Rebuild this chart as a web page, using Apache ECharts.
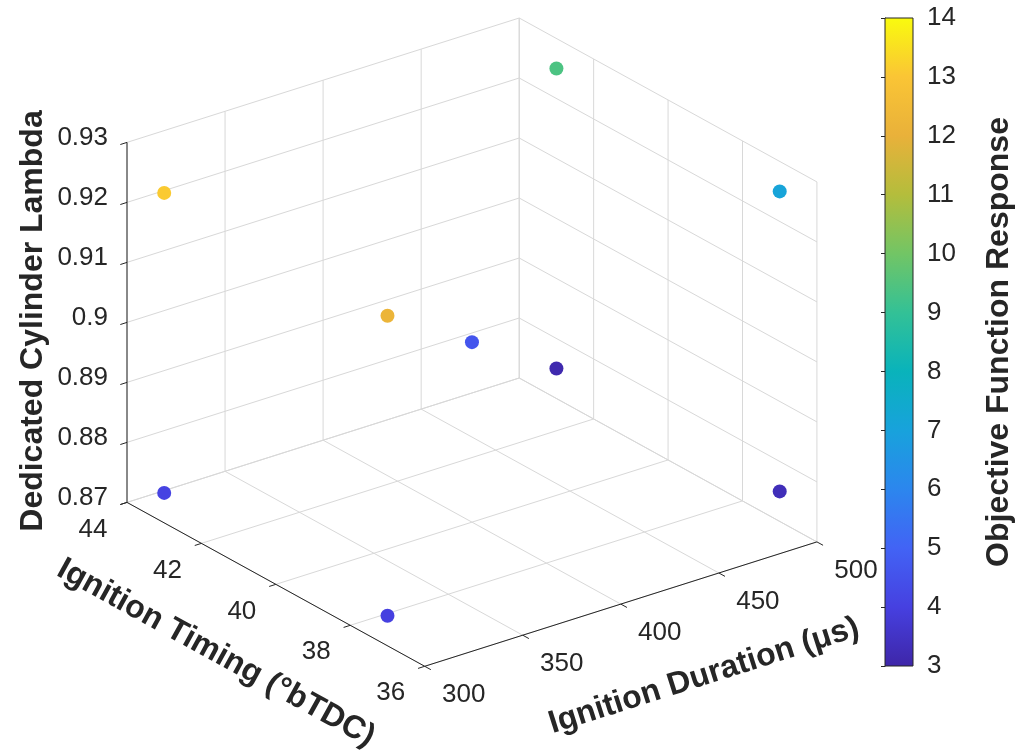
<!DOCTYPE html>
<html>
<head>
<meta charset="utf-8">
<script src="https://cdn.jsdelivr.net/npm/echarts@6/dist/echarts.min.js"></script>
<style>
  html, body { margin: 0; padding: 0; background: #ffffff; }
  #chart { width: 1016px; height: 752px; }
</style>
</head>
<body>
<div id="chart"></div>
<script>
// ---- axis ticks ----
const timingTicks = [36, 38, 40, 42, 44];
const durationTicks = [300, 350, 400, 450, 500];
const lambdaTicks = [0.87, 0.88, 0.89, 0.90, 0.91, 0.92, 0.93];
const lambdaTickLabels = ['0.87', '0.88', '0.89', '0.9', '0.91', '0.92', '0.93'];
const responseTicks = [3, 4, 5, 6, 7, 8, 9, 10, 11, 12, 13, 14];

// ---- design points: 2^3 factorial plus centre point ----
const timing   = [43, 37, 43, 37, 43, 37, 43, 37, 40];
const duration = [300, 300, 500, 500, 300, 300, 500, 500, 400];
const lambda   = [0.925, 0.925, 0.925, 0.925, 0.875, 0.875, 0.875, 0.875, 0.90];
const response = [13.1, 12.2, 9.4, 7.1, 4.1, 4.0, 3.1, 3.3, 4.6];

// parula-like colour map, one stop per integer response tick
const PARULA = ['#3e26a8', '#4640e0', '#4263f5', '#2c86ee', '#18a2dc', '#09b3bb',
                '#33c196', '#72c565', '#b4bd3c', '#e9b13a', '#fac535', '#f9fb0e'];

const FONT = '"Liberation Sans", Arial, Helvetica, sans-serif';
const INK = '#262626';
const GRIDC = '#d8d8d8';
const TICK_SIZE = 26;
const TITLE_SIZE = 32;

// ---- orthographic 3-D view ----
const VIEW = { az: 127.2 * Math.PI / 180, el: 24.7 * Math.PI / 180 };
const BOX = { base: 492.4, height: 360 };
const tMin = timingTicks[0], tMax = timingTicks[timingTicks.length - 1];
const dMin = durationTicks[0], dMax = durationTicks[durationTicks.length - 1];
const lMin = lambdaTicks[0], lMax = lambdaTicks[lambdaTicks.length - 1];

function project(t, d, l) {
  const a = (t - tMin) / (tMax - tMin);
  const b = (d - dMin) / (dMax - dMin);
  const c = (l - lMin) / (lMax - lMin);
  const ca = Math.cos(VIEW.az), sa = Math.sin(VIEW.az), se = Math.sin(VIEW.el);
  return [BOX.base * (ca * a + sa * b), BOX.base * se * (sa * a - ca * b) + BOX.height * c];
}

const xLo = project(tMax, dMin, lMin)[0];
const xHi = project(tMin, dMax, lMin)[0];
const yHi = project(tMax, dMax, lMax)[1];

const points = timing.map((t, i) => {
  const p = project(t, duration[i], lambda[i]);
  return [p[0], p[1], response[i]];
});

function unit(a, b) {
  const dx = b[0] - a[0], dy = b[1] - a[1];
  const n = Math.hypot(dx, dy);
  return [dx / n, dy / n];
}

function text(str, x, y, opts) {
  return {
    type: 'text', x: x, y: y, rotation: opts.rotation || 0,
    style: {
      text: str, fill: INK, fontFamily: FONT,
      fontSize: opts.size || TICK_SIZE, fontWeight: opts.weight || 'normal',
      align: opts.align || 'center', verticalAlign: opts.valign || 'middle'
    }
  };
}

// walls, floor, axes, ticks and labels of the 3-D box
function renderBox(params, api) {
  const P = (t, d, l) => api.coord(project(t, d, l));
  const kids = [];
  const seg = (a, b, color) => kids.push({
    type: 'line', shape: { x1: a[0], y1: a[1], x2: b[0], y2: b[1] },
    style: { stroke: color, lineWidth: 1 }
  });

  // floor grid
  timingTicks.forEach(t => seg(P(t, dMin, lMin), P(t, dMax, lMin), GRIDC));
  durationTicks.forEach(d => seg(P(tMin, d, lMin), P(tMax, d, lMin), GRIDC));
  // back-left wall (timing = max)
  durationTicks.forEach(d => seg(P(tMax, d, lMin), P(tMax, d, lMax), GRIDC));
  lambdaTicks.forEach(l => seg(P(tMax, dMin, l), P(tMax, dMax, l), GRIDC));
  // back-right wall (duration = max)
  timingTicks.forEach(t => seg(P(t, dMax, lMin), P(t, dMax, lMax), GRIDC));
  lambdaTicks.forEach(l => seg(P(tMin, dMax, l), P(tMax, dMax, l), GRIDC));

  // axis lines
  seg(P(tMin, dMin, lMin), P(tMax, dMin, lMin), INK);
  seg(P(tMin, dMin, lMin), P(tMin, dMax, lMin), INK);
  seg(P(tMax, dMin, lMin), P(tMax, dMin, lMax), INK);

  const TL = 7;
  const outD = unit(P(tMin, dMax, lMin), P(tMin, dMin, lMin));
  const outT = unit(P(tMax, dMin, lMin), P(tMin, dMin, lMin));

  // timing axis
  timingTicks.forEach(t => {
    const p = P(t, dMin, lMin);
    seg(p, [p[0] + outD[0] * TL, p[1] + outD[1] * TL], INK);
    kids.push(text(String(t), p[0] - 34, p[1] + 27, {}));
  });
  // duration axis
  durationTicks.forEach(d => {
    const p = P(tMin, d, lMin);
    seg(p, [p[0] + outT[0] * TL, p[1] + outT[1] * TL], INK);
    kids.push(text(String(d), p[0] + 39, p[1] + 29, {}));
  });
  // lambda axis
  lambdaTicks.forEach((l, i) => {
    const p = P(tMax, dMin, l);
    seg(p, [p[0] + outD[0] * TL, p[1] + outD[1] * TL], INK);
    kids.push(text(lambdaTickLabels[i], p[0] - 19, p[1] - 5, { align: 'right' }));
  });

  // axis titles
  const tA = P(tMin, dMin, lMin), tB = P(tMax, dMin, lMin);
  const angT = Math.atan2(tA[1] - tB[1], tA[0] - tB[0]);
  kids.push(text('Ignition Timing (°bTDC)', 216, 653, { size: TITLE_SIZE, weight: 'bold', rotation: -angT }));
  const dA = P(tMin, dMin, lMin), dB = P(tMin, dMax, lMin);
  const angD = Math.atan2(dA[1] - dB[1], dB[0] - dA[0]);
  kids.push(text('Ignition Duration (μs)', 704, 676, { size: TITLE_SIZE, weight: 'bold', rotation: angD }));
  kids.push(text('Dedicated Cylinder Lambda', 33, 321, { size: TITLE_SIZE, weight: 'bold', rotation: Math.PI / 2 }));

  return { type: 'group', children: kids };
}

// colour bar body
function renderBar(params, api) {
  const top = api.coord([0, responseTicks[responseTicks.length - 1]]);
  const bot = api.coord([1, responseTicks[0]]);
  return {
    type: 'rect',
    shape: { x: top[0], y: top[1], width: bot[0] - top[0], height: bot[1] - top[1] },
    style: {
      fill: {
        type: 'linear', x: 0, y: 1, x2: 0, y2: 0,
        colorStops: PARULA.map((c, i) => ({ offset: i / (PARULA.length - 1), color: c }))
      },
      stroke: INK, lineWidth: 1
    }
  };
}

const chart = echarts.init(document.getElementById('chart'), null, { renderer: 'canvas' });
chart.setOption({
  backgroundColor: '#ffffff',
  animation: false,
  textStyle: { fontFamily: FONT },
  grid: [
    { left: 127, top: 18, width: xHi - xLo, height: yHi },
    { left: 885, top: 18, width: 41, height: 648 }
  ],
  xAxis: [
    { gridIndex: 0, type: 'value', min: xLo, max: xHi, show: false },
    { gridIndex: 1, type: 'value', min: 0, max: 1, show: false }
  ],
  yAxis: [
    { gridIndex: 0, type: 'value', min: 0, max: yHi, show: false },
    {
      gridIndex: 1, type: 'value', min: responseTicks[0], max: responseTicks[responseTicks.length - 1],
      interval: 1, position: 'right',
      axisLine: { show: true, lineStyle: { color: INK, width: 1 } },
      axisTick: { show: true, inside: true, length: 4, lineStyle: { color: INK } },
      axisLabel: { color: INK, fontSize: TICK_SIZE, margin: 14, fontFamily: FONT },
      splitLine: { show: false },
      name: 'Objective Function Response', nameLocation: 'middle', nameGap: 70, nameRotate: 90,
      nameTextStyle: { color: INK, fontSize: TITLE_SIZE, fontWeight: 'bold', fontFamily: FONT }
    }
  ],
  visualMap: {
    type: 'continuous', show: false, seriesIndex: 1, dimension: 2,
    min: responseTicks[0], max: responseTicks[responseTicks.length - 1],
    inRange: { color: PARULA }
  },
  series: [
    {
      type: 'custom', xAxisIndex: 0, yAxisIndex: 0, silent: true, z: 1,
      data: [[0, 0]], renderItem: renderBox
    },
    {
      type: 'scatter', xAxisIndex: 0, yAxisIndex: 0, z: 3, silent: true,
      symbol: 'circle', symbolSize: 14, itemStyle: { opacity: 1 }, data: points
    },
    {
      type: 'custom', xAxisIndex: 1, yAxisIndex: 1, silent: true, z: 1,
      data: [[0, 3]], renderItem: renderBar
    }
  ]
});
</script>
</body>
</html>
